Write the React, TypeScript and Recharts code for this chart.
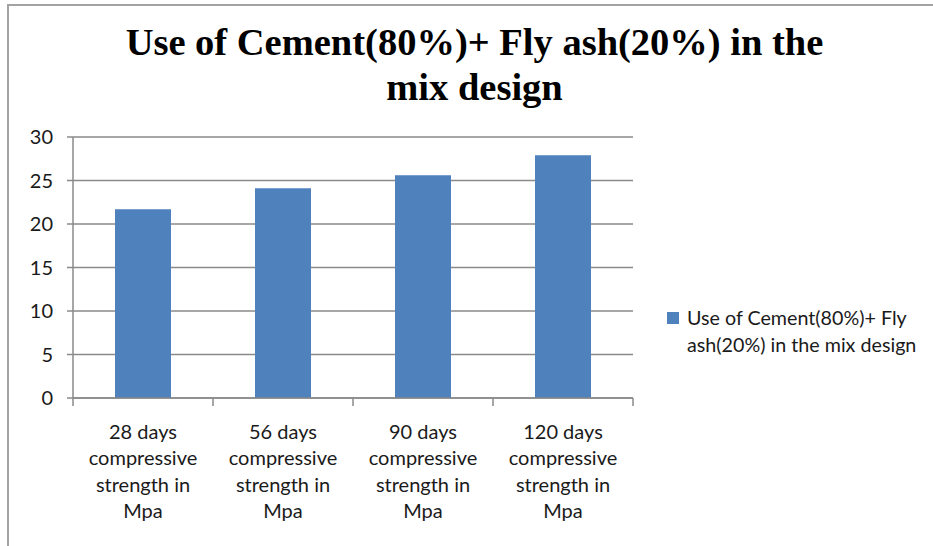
import React from 'react';
import { BarChart, Bar, XAxis, YAxis, CartesianGrid } from 'recharts';

const categories: string[] = [
  '28 days compressive strength in Mpa',
  '56 days compressive strength in Mpa',
  '90 days compressive strength in Mpa',
  '120 days compressive strength in Mpa',
];
const categoryLines: string[][] = [
  ['28 days', 'compressive', 'strength in', 'Mpa'],
  ['56 days', 'compressive', 'strength in', 'Mpa'],
  ['90 days', 'compressive', 'strength in', 'Mpa'],
  ['120 days', 'compressive', 'strength in', 'Mpa'],
];
const strengthValues: number[] = [21.7, 24.1, 25.6, 27.9];
const yTicks: number[] = [0, 5, 10, 15, 20, 25, 30];
const seriesName = 'Use of Cement(80%)+ Fly ash(20%) in the mix design';
const titleLines: string[] = ['Use of Cement(80%)+ Fly ash(20%) in the', 'mix design'];

const data = categories.map((c, i) => ({ category: c, value: strengthValues[i] }));

const LABEL_FONT = 'Lato, "Open Sans", sans-serif';
const GRID = '#8a8a8a';
const TICK_SIZE = 8;
const TICK_MARGIN = 14;

const CategoryTick = (props: any) => {
  const { x, y, payload, index } = props;
  const half = payload && payload.offset ? payload.offset : 70;
  const axisY = y - TICK_SIZE - TICK_MARGIN;
  const lines = categoryLines[index] || [String(payload.value)];
  const isLast = index === categories.length - 1;
  return (
    <g>
      <line x1={x - half} x2={x - half} y1={axisY} y2={axisY + TICK_SIZE} stroke={GRID} strokeWidth={1.5} />
      {isLast && (
        <line x1={x + half} x2={x + half} y1={axisY} y2={axisY + TICK_SIZE} stroke={GRID} strokeWidth={1.5} />
      )}
      <text x={x} y={y} textAnchor="middle" fill="#1a1a1a" fontFamily={LABEL_FONT} fontSize={20}>
        {lines.map((l, i) => (
          <tspan key={i} x={x} dy={i === 0 ? 19 : 26.3}>
            {l}
          </tspan>
        ))}
      </text>
    </g>
  );
};

export default function App() {
  return (
    <div style={{ position: 'absolute', left: 0, top: 0, width: 933, height: 546, background: '#fff', overflow: 'hidden' }}>
      <div
        style={{
          position: 'absolute',
          left: 7,
          top: 4,
          width: 1000,
          height: 600,
          borderLeft: '2px solid #a3a3a3',
          borderTop: '2px solid #a3a3a3',
          boxSizing: 'border-box',
        }}
      />
      <div
        style={{
          position: 'absolute',
          left: 0,
          top: 20,
          width: 949,
          textAlign: 'center',
          fontFamily: '"Liberation Serif", "Times New Roman", serif',
          fontWeight: 'bold',
          fontSize: 38.5,
          lineHeight: '45px',
          color: '#000',
        }}
      >
        {titleLines.map((t, i) => (
          <div key={i}>{t}</div>
        ))}
      </div>
      <div style={{ position: 'absolute', left: 0, top: 0 }}>
        <BarChart
          width={933}
          height={546}
          data={data}
          margin={{ top: 137, right: 300, bottom: 8, left: 0 }}
          barCategoryGap="30%"
        >
          <CartesianGrid vertical={false} stroke={GRID} strokeWidth={1.5} />
          <XAxis
            dataKey="category"
            height={140}
            tickLine={false}
            tickSize={TICK_SIZE}
            tickMargin={TICK_MARGIN}
            interval={0}
            axisLine={{ stroke: GRID, strokeWidth: 1.5 }}
            tick={<CategoryTick />}
          />
          <YAxis
            width={73}
            domain={[0, 30]}
            ticks={yTicks}
            interval={0}
            tickSize={6}
            tickMargin={14}
            tickLine={{ stroke: GRID, strokeWidth: 1.5 }}
            axisLine={{ stroke: GRID, strokeWidth: 1.5 }}
            tick={{ fill: '#1a1a1a', fontFamily: LABEL_FONT, fontSize: 20 }}
          />
          <Bar dataKey="value" name={seriesName} fill="#4F81BD" isAnimationActive={false} />
        </BarChart>
      </div>
      <div
        style={{
          position: 'absolute',
          left: 667,
          top: 304,
          width: 262,
          fontFamily: LABEL_FONT,
          fontSize: 19.7,
          color: '#1a1a1a',
        }}
      >
        <div style={{ position: 'absolute', left: 0, top: 8, width: 12, height: 12, background: '#4F81BD' }} />
        <div style={{ marginLeft: 20, width: 242, lineHeight: '27px' }}>{seriesName}</div>
      </div>
    </div>
  );
}
